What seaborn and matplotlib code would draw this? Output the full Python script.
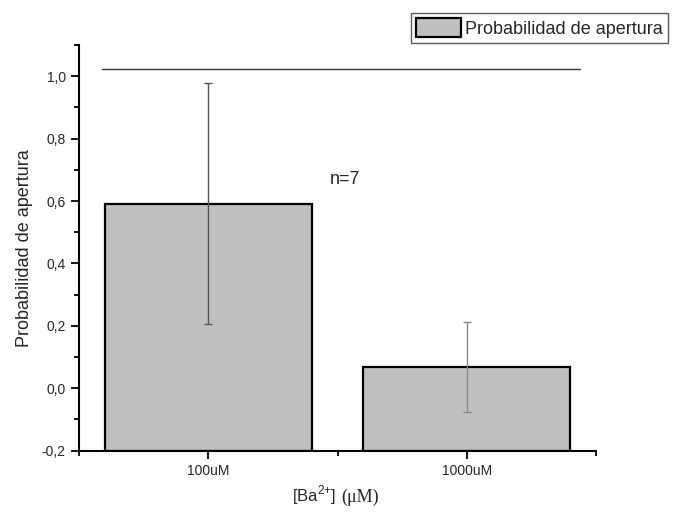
import pandas as pd
import matplotlib.pyplot as plt
import seaborn as sns
from matplotlib.ticker import FuncFormatter, MultipleLocator

# datos
concentraciones = ['100uM', '1000uM']
prob_media = [0.592, 0.068]
prob_error = [0.387, 0.144]
linea_ref = 1.024
texto_n = 'n=7'
base = -0.2  # las barras arrancan desde el eje inferior (estilo Origin)

df = pd.DataFrame({'conc': concentraciones, 'prob': prob_media, 'err': prob_error})
df['alto'] = df['prob'] - base

sns.set_style('ticks')
plt.rcParams['font.family'] = ['Liberation Sans', 'DejaVu Sans']

fig = plt.figure(figsize=(6.73, 5.15), dpi=100)
ax = fig.add_axes([79 / 673, 1 - 450.7 / 515, (596 - 79) / 673, (450.7 - 45) / 515])

sns.barplot(x='conc', y='alto', data=df, ax=ax, color='#c0c0c0', saturation=1,
            edgecolor='black', linewidth=1.6, width=0.8, errorbar=None,
            bottom=base, label='Probabilidad de apertura')

# barras de error
err_colores = ['#555555', '#888888']
for i, row in df.iterrows():
    ax.errorbar(i, row['prob'], yerr=row['err'], fmt='none', ecolor=err_colores[i],
                elinewidth=1, capsize=3, capthick=1, zorder=5)

# linea horizontal de referencia
ax.plot([-0.41, 1.44], [linea_ref, linea_ref], color='#333333', lw=1)
ax.text(0.47, 0.67, texto_n, fontsize=13, ha='left', va='center')

ax.set_xlim(-0.5, 1.5)
ax.set_ylim(-0.2, 1.1)
ax.yaxis.set_major_locator(MultipleLocator(0.2))
ax.yaxis.set_minor_locator(MultipleLocator(0.1))
ax.xaxis.set_minor_locator(MultipleLocator(0.5))
ax.yaxis.set_major_formatter(FuncFormatter(lambda v, p: f'{v:.1f}'.replace('.', ',').replace('-0,0', '0,0')))
ax.tick_params(which='major', direction='out', length=6, width=1.3, labelsize=10, color='black')
ax.tick_params(which='minor', direction='out', length=3.5, width=1.3, color='black')
ax.tick_params(axis='x', which='minor', labelbottom=False)

for s in ['top', 'right']:
    ax.spines[s].set_visible(False)
for s in ['left', 'bottom']:
    ax.spines[s].set_linewidth(1.5)
    ax.spines[s].set_color('black')

ax.set_ylabel('Probabilidad de apertura', fontsize=13, labelpad=6)
ax.set_xlabel('')
fig.text(292 / 673, 1 - 495 / 515, r'[Ba$^{\mathregular{2{+}}}$]', fontsize=12,
         ha='left', va='center', family=['Liberation Sans'])
fig.text(379 / 673, 1 - 497 / 515, '(μM)', fontsize=13,
         ha='right', va='center', family=['Liberation Serif', 'DejaVu Serif'])

leg = ax.legend(loc='upper right', bbox_to_anchor=(668 / 673, 1 - 13 / 515),
                bbox_transform=fig.transFigure, fontsize=13, frameon=True,
                fancybox=False, borderpad=0.3, handlelength=2.5, handleheight=1.2,
                handletextpad=0.2, borderaxespad=0)
leg.get_frame().set_edgecolor('#333333')
leg.get_frame().set_linewidth(1)

plt.savefig('out.png', dpi=100)
